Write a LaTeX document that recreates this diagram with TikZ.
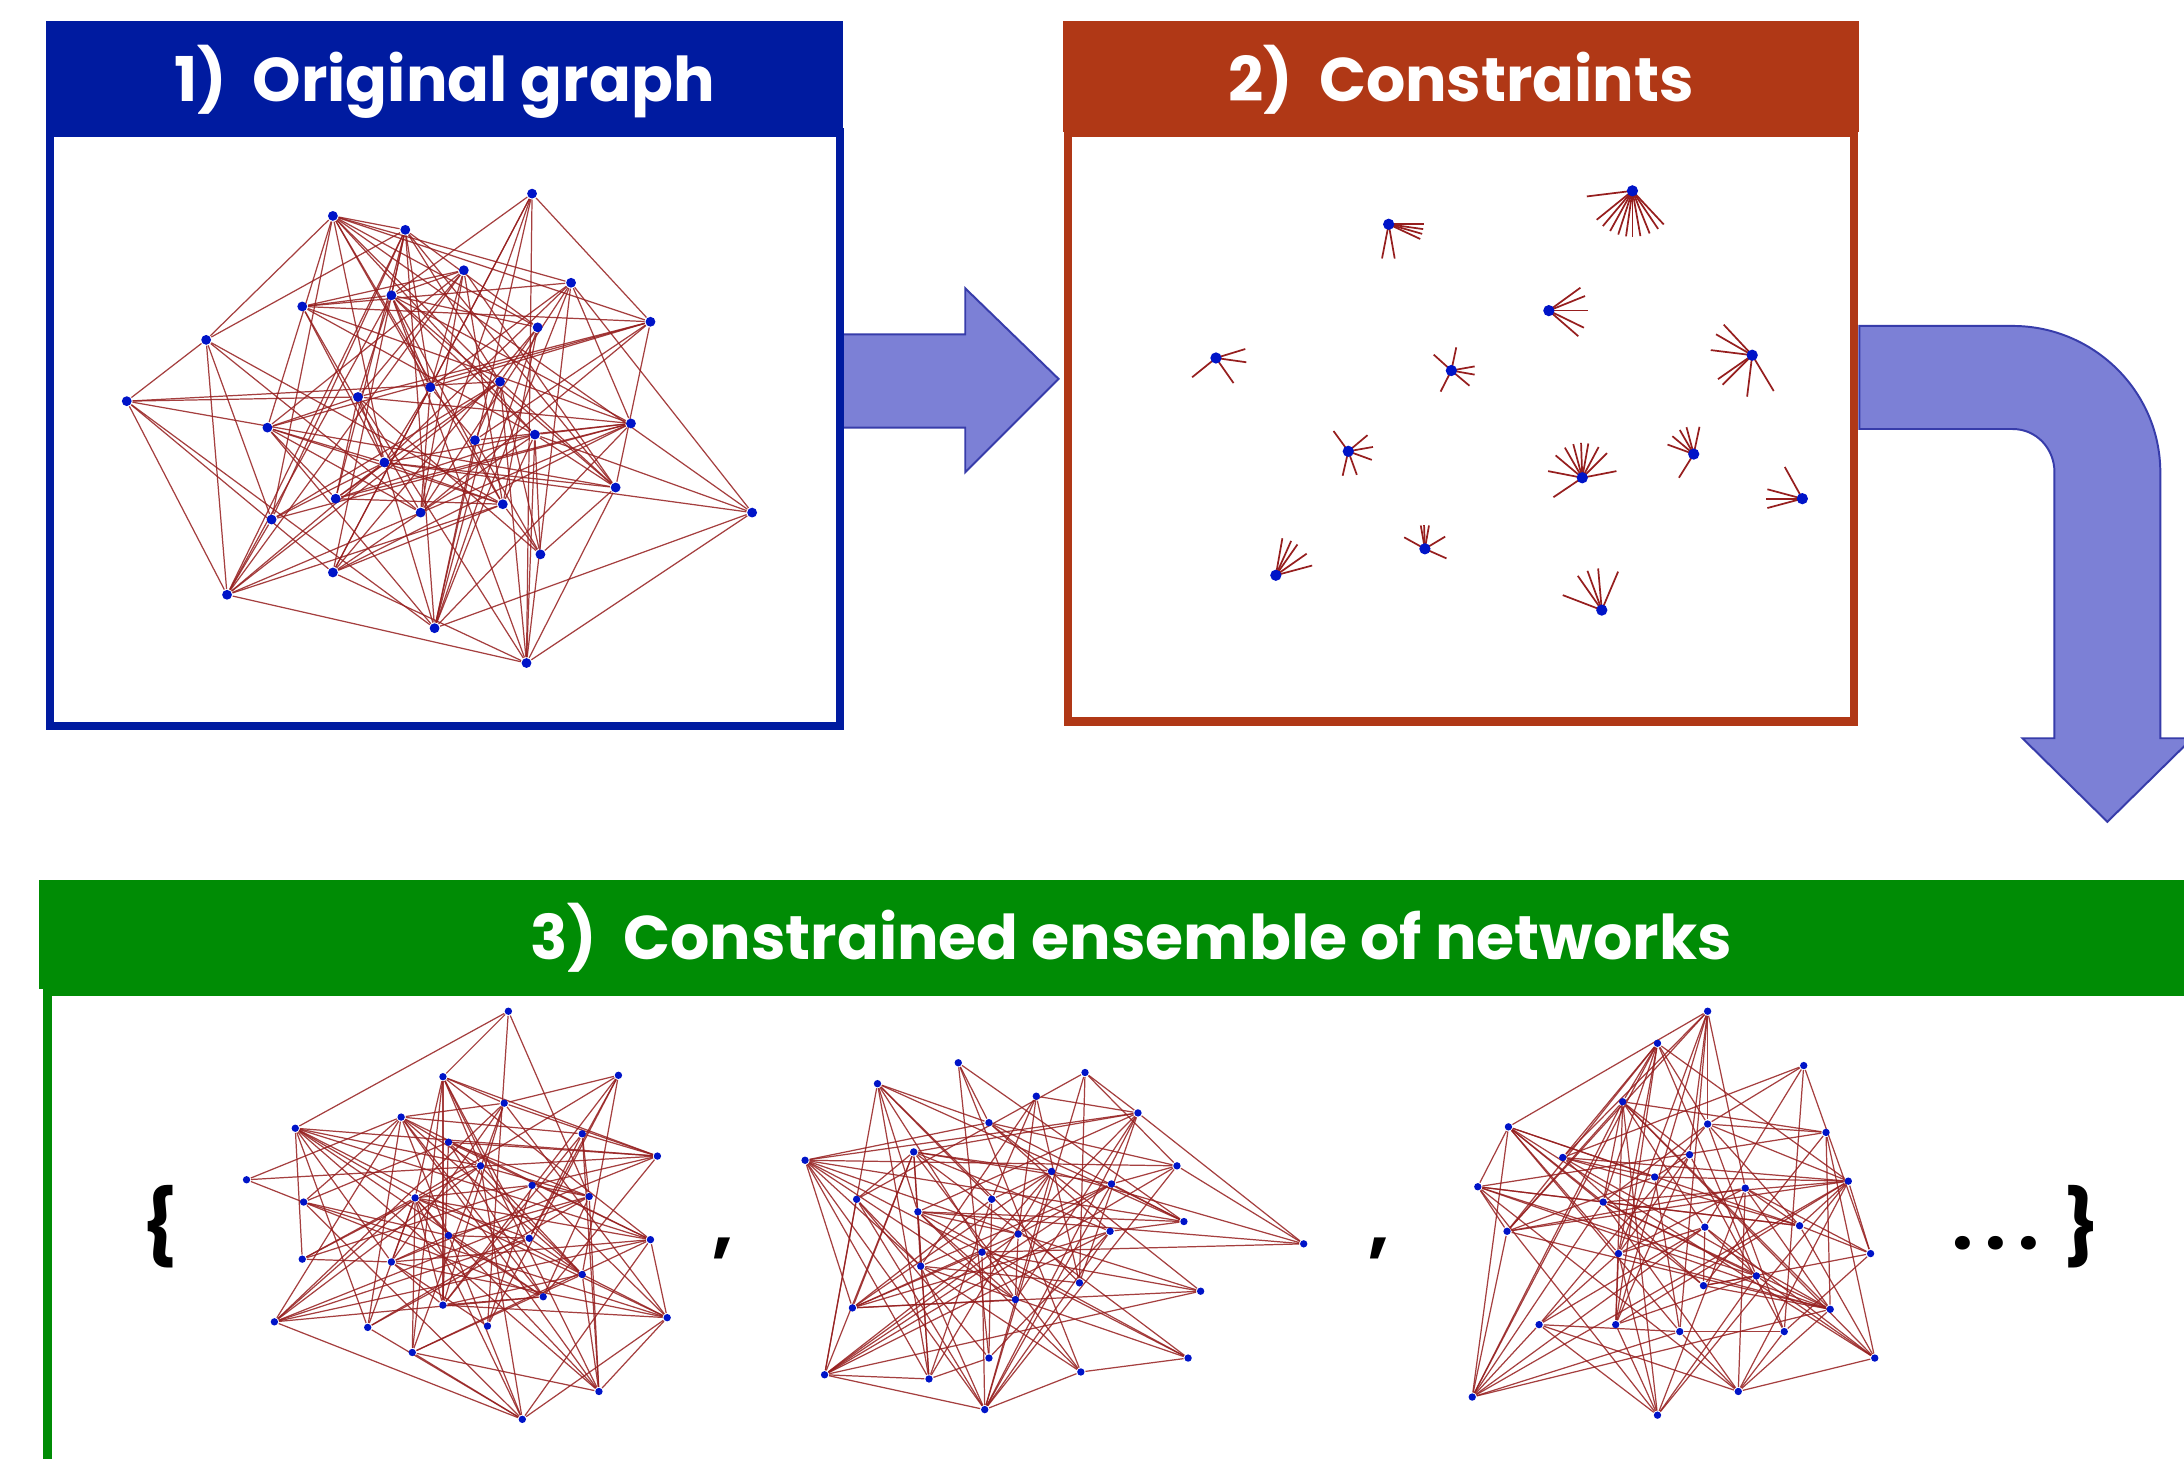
\documentclass[tikz,border=0pt]{standalone}
\usepackage{fontspec}
\newfontfamily\headfont{Poppins}
\definecolor{hdblue}{RGB}{0,27,160}
\definecolor{hdrust}{RGB}{176,56,22}
\definecolor{hdgreen}{RGB}{0,140,5}
\definecolor{arrowfill}{RGB}{124,128,214}
\definecolor{arrowline}{RGB}{55,60,170}
\definecolor{edgered}{RGB}{150,30,30}
\definecolor{dotblue}{RGB}{0,20,200}
\pgfdeclarelayer{bg}
\pgfdeclarelayer{edges}
\pgfsetlayers{bg,edges,main}
\tikzset{
	vert/.style={circle, fill=dotblue, inner sep=0pt, minimum size=2pt},
	smallvert/.style={circle, fill=dotblue, inner sep=0pt, minimum size=1.5pt},
	starvert/.style={circle, fill=dotblue, inner sep=0pt, minimum size=2.3pt},
	edge/.style={draw=edgered, line width=0.25pt, opacity=0.85},
	spoke/.style={draw=edgered, line width=0.35pt},
	title/.style={text=white, anchor=base, inner sep=0pt,
		font=\headfont\bfseries\fontsize{12.6}{15}\selectfont},
	symbolmark/.style={inner sep=0pt, font=\headfont\bfseries\fontsize{15}{18}\selectfont},
	bigarrow/.style={fill=arrowfill, draw=arrowline, line width=0.4pt},
	frame/.style={line width=1.7pt},
}
% random edges among the nodes #1 1..#2, each pair with probability #3
\newcommand\randomedges[3]{%
	\foreach \i in {1,...,#2}{
		\foreach \j in {1,...,#2}{
			\ifnum\j>\i
				\pgfmathsetmacro\rval{rnd}
				\ifdim\rval pt<#3pt \draw[edge] (#1\i) -- (#1\j); \fi
			\fi
		}
	}
}
\begin{document}
\begin{tikzpicture}[x=0.01cm, y=-0.01cm]
	\useasboundingbox (0,0) rectangle (1568,1047);
	\clip (0,0) rectangle (1568,1047);
	\begin{pgfonlayer}{bg}
		\fill[white] (0,0) rectangle (1568,1047);
	\end{pgfonlayer}

	% arrows
	\draw[bigarrow] (605,240) -- (693,240) -- (693,207) -- (760,272)
		-- (693,339) -- (693,307) -- (605,307) -- cycle;
	\draw[bigarrow] (1335,234) -- (1445,234)
		.. controls (1503,234) and (1551,281) .. (1551,339)
		-- (1551,530) -- (1574,530) -- (1513,590) -- (1452,530) -- (1475,530)
		-- (1475,339) .. controls (1475,322) and (1462,308) .. (1445,308)
		-- (1335,308) -- cycle;

	% 1) original graph
	\fill[hdblue] (33,15) rectangle (605,95);
	\draw[hdblue, frame] (36,95) rectangle (603,521);
	\node[title] (t1) at (319,73) {1)~~Original graph};
	\foreach \n/\x/\y in {1/382/139, 2/239/155, 3/291/165, 4/333/194, 5/410/203,
		6/281/212, 7/217/220, 8/467/231, 9/386/235, 10/148/244, 11/91/288,
		12/257/285, 13/309/278, 14/359/274, 15/192/307, 16/453/304, 17/341/316,
		18/384/312, 19/276/332, 20/442/350, 21/241/358, 22/302/368, 23/361/362,
		24/540/368, 25/195/373, 26/388/398, 27/239/411, 28/163/427, 29/312/451,
		30/378/476}
		\node[vert] (orig\n) at (\x,\y) {};
	\begin{pgfonlayer}{edges}
		\pgfmathsetseed{11}
		\randomedges{orig}{30}{0.3}
	\end{pgfonlayer}

	% 2) constraints
	\fill[hdrust] (763,15) rectangle (1335,95);
	\draw[hdrust, frame] (767,95) rectangle (1331,518);
	\node[title] (t2) at (1049,73) {2)~~Constraints};
	\foreach \nm/\x/\y/\len/\angs in {
		A/1172/137/33/{187,219,230,241,252,262,270,280,292,304,313},
		B/997/161/25/{0,-8,-16,-25,259,280},
		C/1112/223/28/{36,22,0,-26,-41},
		D/873/257/22/{17,-8,219,-55},
		E/1042/266/17/{78,138,10,-10,-40,243},
		F/1258/255/30/{173,150,133,215,225,263,-59},
		G/968/324/18/{126,40,10,-20,257,-70},
		H/1136/343/25/{169,140,120,105,92,80,62,45,11,214},
		I/1216/326/20/{78,105,120,140,160,238},
		J/1294/358/26/{119,165,180,195},
		K/916/413/27/{80,66,55,35,15},
		L/1023/394/17/{100,92,80,151,31,-24},
		M/1150/438/30/{159,125,110,95,67}}{
		\node[starvert] (deg\nm) at (\x,\y) {};
		\begin{pgfonlayer}{edges}
			\foreach \a in \angs
				\draw[spoke] (deg\nm.center) -- ++(-\a:\len);
		\end{pgfonlayer}
	}

	% 3) constrained ensemble
	\fill[hdgreen] (28,632) rectangle (1600,710);
	\draw[hdgreen, frame] (34,712) rectangle (1600,1100);
	\node[title] (t3) at (812,689) {3)~~Constrained ensemble of networks};

	\foreach \n/\x/\y in {1/365/726, 2/318/773, 3/444/772, 4/362/792, 5/288/802,
		6/212/810, 7/418/814, 8/322/820, 9/472/830, 10/345/837, 11/177/847,
		12/382/851, 13/298/860, 14/218/863, 15/423/859, 16/322/887, 17/380/889,
		18/467/890, 19/217/904, 20/281/906, 21/418/915, 22/390/931, 23/318/937,
		24/197/949, 25/479/946, 26/264/953, 27/350/952, 28/296/971, 29/430/999,
		30/375/1019}
		\node[smallvert] (ensA\n) at (\x,\y) {};
	\foreach \n/\x/\y in {1/688/763, 2/779/770, 3/630/778, 4/744/787, 5/817/799,
		6/710/806, 7/578/833, 8/656/827, 9/845/837, 10/755/841, 11/798/850,
		12/615/861, 13/712/861, 14/659/870, 15/850/877, 16/797/884, 17/731/886,
		18/936/893, 19/705/899, 20/661/909, 21/775/921, 22/862/927, 23/729/933,
		24/612/939, 25/710/975, 26/853/975, 27/776/985, 28/592/987, 29/667/990,
		30/707/1012}
		\node[smallvert] (ensB\n) at (\x,\y) {};
	\foreach \n/\x/\y in {1/1226/726, 2/1190/749, 3/1295/765, 4/1165/791,
		5/1083/809, 6/1226/807, 7/1311/813, 8/1213/829, 9/1122/831, 10/1188/845,
		11/1327/848, 12/1061/852, 13/1253/853, 14/1151/863, 15/1224/881,
		16/1292/880, 17/1082/884, 18/1343/900, 19/1162/900, 20/1261/916,
		21/1223/923, 22/1314/940, 23/1105/951, 24/1160/951, 25/1206/956,
		26/1281/956, 27/1346/975, 28/1248/999, 29/1057/1003, 30/1190/1016}
		\node[smallvert] (ensC\n) at (\x,\y) {};
	\begin{pgfonlayer}{edges}
		\pgfmathsetseed{23}
		\randomedges{ensA}{30}{0.28}
		\pgfmathsetseed{37}
		\randomedges{ensB}{30}{0.28}
		\pgfmathsetseed{51}
		\randomedges{ensC}{30}{0.28}
	\end{pgfonlayer}

	\node[symbolmark] (lbrace) at (115,881) {\{};
	\node[symbolmark, anchor=base] (comma1) at (519,897) {,};
	\node[symbolmark, anchor=base] (comma2) at (990,897) {,};
	\node[symbolmark, anchor=base] (dots) at (1433,897) {.\,.\,.};
	\node[symbolmark] (rbrace) at (1495,881) {\}};
\end{tikzpicture}
\end{document}
